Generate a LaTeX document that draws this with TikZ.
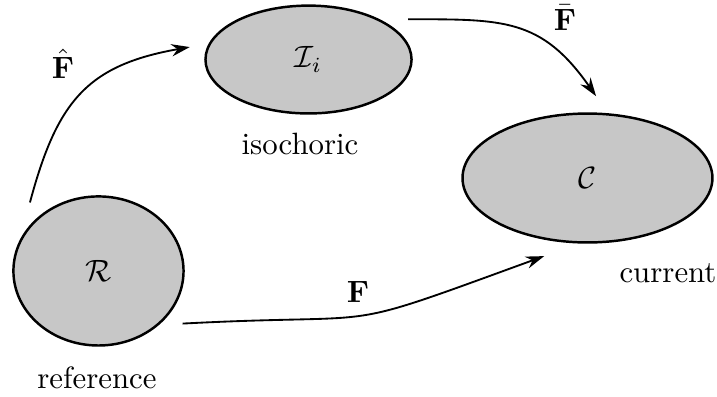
\documentclass[tikz,border=0pt]{standalone}
\usetikzlibrary{shapes.geometric,arrows.meta}
\begin{document}
\begin{tikzpicture}[>={Stealth[length=6pt, width=4pt, inset=2pt]}, scale=1.0,
    region/.style={ellipse, draw, thick, fill=black!22, inner sep=0pt, outer sep=0.2cm},
    map/.style={->, semithick}]
        \useasboundingbox (0,0) rectangle (8.176,4.527);
        \node (R) at (1.123,1.437) [region, minimum width=1.94cm, minimum height=1.70cm]{$\mathcal{R}$};
        \node (I) at (3.518,3.848) [region, minimum width=2.35cm, minimum height=1.23cm]{$\mathcal{I}_i$};
        \node (C) at (6.699,2.497) [region, minimum width=2.85cm, minimum height=1.47cm]{$\mathcal{C}$};
        \node (Rname) at (1.106,0.217) {reference};
        \node (Iname) at (3.421,2.885) {isochoric};
        \node (Cname) at (7.617,1.408) {current};
        \draw[map] (R.135) to[out=75, in=190, looseness=1.2] (I.174);
        \draw[map] (I.22) to[out=0, in=125, looseness=1.2] (C.84);
        \draw[map] (R.-32) .. controls +(3:2.45) and +(200:2.63) .. (C.241);
        \node (Fhat) at (0.718,3.797) {$\hat{\mathbf{F}}$};
        \node (Fbar) at (6.442,4.327) {$\bar{\mathbf{F}}$};
        \node (F) at (4.082,1.197) {$\mathbf{F}$};
\end{tikzpicture}
\end{document}
